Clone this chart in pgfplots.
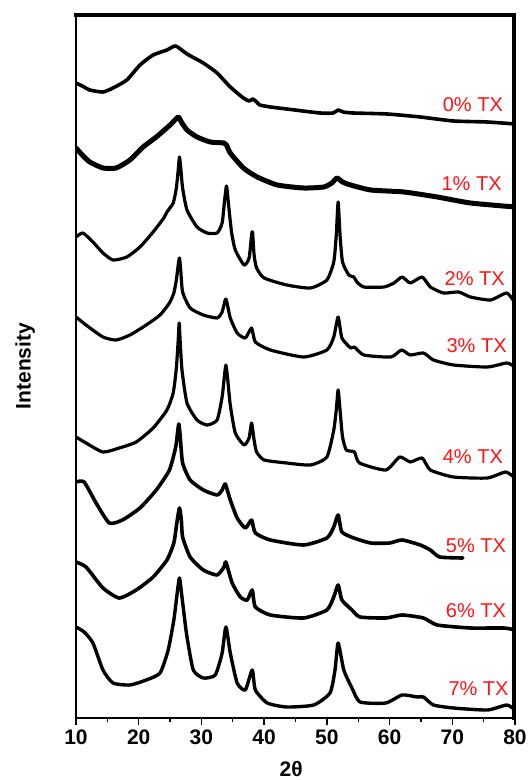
\documentclass[border=0pt]{standalone}
\usepackage{pgfplots}
\pgfplotsset{compat=1.18}
\usepackage{fontspec}
\setmainfont{Liberation Sans}
\definecolor{lblred}{RGB}{255,20,20}
\pgfplotsset{xrd/.style={black, solid, line width=3.2pt, line join=round, line cap=round, mark=none, smooth, tension=0.35}}
\begin{document}
\begin{tikzpicture}
\useasboundingbox (-76pt,-62pt) rectangle (452pt,718pt);
\begin{axis}[
  name=ax,
  scale only axis, width=439pt, height=704pt,
  xmin=10, xmax=80, ymin=-718, ymax=-14,
  xtick={10,20,...,80}, minor x tick num=1,
  ytick=\empty, xtick pos=left, tick align=outside,
  major tick length=7pt, minor tick length=4pt,
  axis line style={line width=1.5pt},
  every tick/.style={line width=1.4pt, black},
  /pgf/number format/assume math mode=true,
  xticklabel style={font=\fontsize{21}{21}\selectfont\bfseries, yshift=-1pt},
  xlabel={2θ}, ylabel={Intensity},
  xlabel style={font=\fontsize{21}{21}\selectfont\bfseries, at={(axis description cs:0.49,-0.0725)}, anchor=center},
  ylabel style={font=\fontsize{21}{21}\selectfont\bfseries, at={(axis description cs:-0.116,0.5)}, anchor=center},
]
% 0% TX
\addplot[xrd, line width=3.6pt] coordinates {(10,-83)(11,-86)(12.2,-90)(14.3,-92)(15.9,-88)(18.1,-80)(20.2,-65)(22.3,-55)(24.5,-50)(25.9,-46)(27.7,-54)(30.3,-63)(32.5,-73)(34.6,-87)(36.7,-98)(37.6,-101)(38.2,-99)(38.8,-102)(39.3,-105)(41,-107)(43.6,-109)(48.9,-113)(51.0,-113)(51.8,-110)(52.6,-112)(54.2,-113)(59.6,-114)(64.9,-117)(70.2,-121)(75.6,-122)(80,-124)};
% 1% TX
\addplot[xrd, line width=5pt] coordinates {(10,-148)(11,-155)(12.2,-162)(14.3,-168)(16.4,-168)(18.6,-160)(20.7,-147)(22.8,-137)(25.0,-125)(26.3,-117)(26.8,-122)(27.7,-130)(29.3,-137)(31.4,-142)(33.6,-143)(34.0,-145)(34.6,-153)(36.7,-168)(38.9,-177)(42.1,-185)(46.3,-188)(49.5,-187)(50.8,-183)(51.6,-178)(52.5,-182)(53.8,-185)(57.0,-190)(62.3,-192)(67.6,-197)(72.9,-203)(80,-207)};
% 2% TX
\addplot[xrd] coordinates {(10,-237)(11.1,-233)(12.7,-242)(14.3,-253)(15.9,-260)(18.1,-257)(20.2,-247)(22.3,-232)(24.0,-218)(24.5,-212)(25.5,-203)(26.0,-188)(26.3,-170)(26.5,-157)(26.7,-168)(27.0,-188)(27.7,-210)(29.3,-227)(30.9,-233)(32.5,-233)(33.3,-223)(33.7,-200)(34.0,-186)(34.3,-203)(34.8,-232)(35.4,-250)(36.8,-265)(37.6,-258)(38.0,-235)(38.15,-232)(38.4,-255)(38.8,-268)(40.0,-278)(43.6,-285)(47.4,-288)(50.0,-280)(51.1,-262)(51.5,-235)(51.8,-202)(52.1,-235)(52.5,-262)(53.5,-275)(54.3,-277)(54.8,-282)(55.9,-287)(59.1,-287)(60.7,-283)(62.0,-277)(63.3,-283)(65.2,-277)(66.5,-287)(68.6,-293)(71.0,-292)(72.9,-297)(76.1,-300)(78.7,-293)(80,-303)};
% 3% TX
\addplot[xrd] coordinates {(10,-317)(11.6,-325)(14.3,-337)(16.4,-340)(18.6,-335)(21.2,-325)(23.4,-315)(24.9,-303)(25.6,-293)(26.0,-280)(26.3,-265)(26.5,-258)(26.7,-270)(27.0,-292)(28.2,-308)(30.3,-315)(32.5,-318)(33.3,-312)(33.9,-299)(34.6,-318)(35.7,-333)(37.0,-338)(38.0,-328)(38.6,-342)(41.0,-350)(46.3,-357)(50.0,-350)(51.1,-337)(51.8,-317)(52.4,-338)(53.8,-348)(54.4,-347)(55.9,-355)(60.2,-357)(61.9,-350)(63.3,-355)(65.4,-353)(67.0,-360)(70.2,-365)(75.6,-367)(78.7,-363)(80,-367)};
% 4% TX
\addplot[xrd] coordinates {(10,-437)(11.6,-443)(14.3,-452)(16.9,-448)(19.6,-442)(22.3,-428)(24.5,-410)(25.5,-393)(26.0,-368)(26.3,-340)(26.45,-323)(26.6,-340)(26.9,-370)(27.7,-403)(29.3,-420)(30.9,-425)(32.5,-420)(33.3,-397)(33.6,-380)(33.9,-365)(34.2,-380)(34.6,-405)(35.4,-433)(36.8,-445)(37.6,-438)(38.0,-423)(38.4,-440)(38.8,-452)(40.0,-460)(43.6,-463)(47.4,-465)(50.0,-457)(51.1,-430)(51.5,-410)(51.8,-390)(52.1,-410)(52.5,-437)(53.1,-450)(54.4,-452)(55.2,-463)(59.4,-470)(61.6,-457)(63.3,-462)(65.2,-458)(66.5,-470)(70.2,-477)(75.6,-478)(78.5,-472)(80,-478)};
% 5% TX
\addplot[xrd, line width=3.6pt] coordinates {(10,-482)(11.3,-482)(13.2,-503)(15.3,-523)(17.4,-520)(20.2,-508)(22.8,-490)(24.9,-470)(25.9,-447)(26.2,-432)(26.4,-424)(26.6,-435)(27.0,-463)(28.2,-480)(30.3,-490)(32.5,-495)(33.3,-490)(33.8,-484)(34.6,-500)(35.7,-518)(37.0,-528)(38.0,-520)(38.6,-533)(41.0,-540)(46.3,-545)(50.0,-538)(51.1,-527)(51.8,-515)(52.4,-532)(54.3,-538)(57.0,-543)(60,-543)(62.0,-540)(64.9,-545)(66.5,-550)(68.0,-557)(71.7,-558)};
% 6% TX
\addplot[xrd, line width=3.6pt] coordinates {(10,-562)(11.6,-567)(14.3,-588)(16.9,-598)(19.6,-590)(22.3,-577)(24.5,-560)(25.6,-543)(26.1,-522)(26.5,-508)(26.8,-520)(27.0,-537)(28.2,-557)(30.3,-570)(32.5,-575)(33.6,-567)(33.9,-562)(34.9,-583)(36.2,-597)(37.3,-600)(38.1,-590)(38.6,-607)(41.0,-615)(46.3,-618)(50.0,-610)(51.1,-597)(51.8,-585)(52.4,-600)(54.0,-610)(55.3,-617)(59.4,-618)(62.0,-615)(65.4,-618)(67.6,-625)(72.9,-628)(78.2,-628)(80,-630)};
% 7% TX
\addplot[xrd, line width=3.4pt] coordinates {(10,-627)(11.3,-632)(12.7,-643)(14.3,-670)(15.9,-683)(18.6,-685)(21.2,-680)(23.4,-673)(24.7,-650)(25.6,-620)(26.1,-595)(26.5,-578)(26.9,-597)(27.3,-618)(27.7,-637)(28.7,-670)(30.3,-678)(32.2,-675)(33.3,-653)(33.9,-627)(34.6,-653)(35.7,-683)(37.0,-690)(38.1,-670)(38.6,-690)(40.5,-703)(43.6,-707)(47.9,-705)(50.5,-693)(51.3,-670)(51.8,-643)(52.7,-670)(54.0,-688)(55.3,-702)(59.4,-703)(62.0,-695)(64.4,-697)(65.4,-697)(67.0,-705)(70.2,-708)(75.6,-710)(78.7,-705)(80,-710)};
\begin{scope}[every node/.style={text=lblred, font=\fontsize{20}{20}\selectfont, anchor=east, inner sep=0pt}]
\node at (axis cs:78.1,-105) {0\% TX};
\node at (axis cs:77.9,-184) {1\% TX};
\node at (axis cs:78.4,-279) {2\% TX};
\node at (axis cs:78.7,-346) {3\% TX};
\node at (axis cs:78.1,-457) {4\% TX};
\node at (axis cs:78.6,-546) {5\% TX};
\node at (axis cs:78.6,-611) {6\% TX};
\node at (axis cs:79.0,-689) {7\% TX};
\end{scope}
\end{axis}
\draw[line width=4pt, black, line cap=rect] ([yshift=-1pt]ax.north west) -- ([xshift=-1pt,yshift=-1pt]ax.north east);
\draw[line width=4pt, black, line cap=rect] ([xshift=-1pt,yshift=-1pt]ax.north east) -- ([xshift=-1pt]ax.south east);
\draw[line width=1.8pt, black, line cap=rect] (ax.south west) -- (ax.south east);
\draw[line width=1.8pt, black, line cap=rect] (ax.south west) -- (ax.north west);
\end{tikzpicture}
\end{document}
